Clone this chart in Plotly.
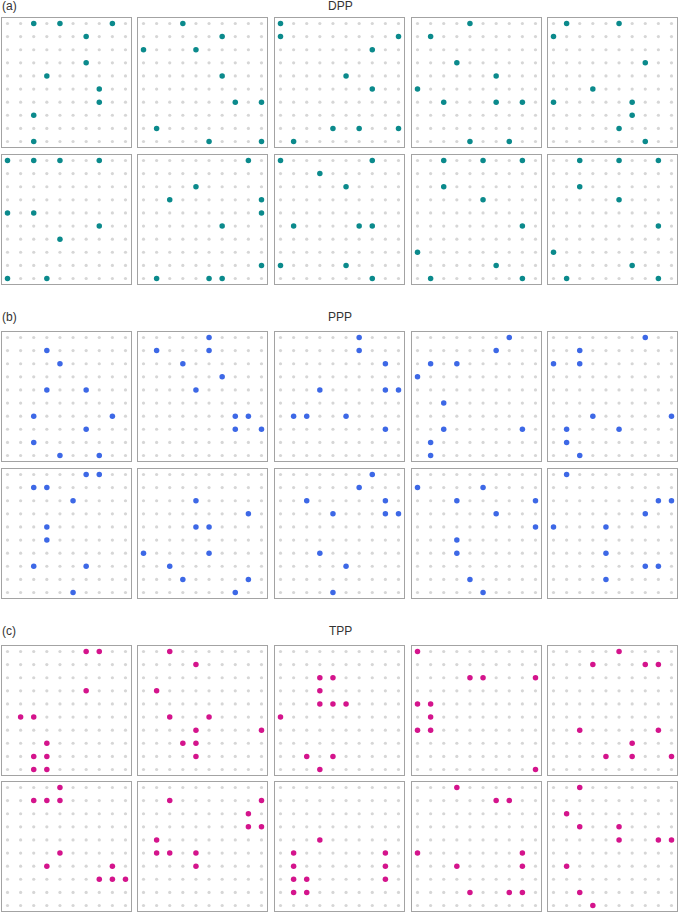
import numpy as np
import plotly.graph_objects as go

# highlighted cells (col, row) for each of the 10 samples per process, row 0 = top
dpp_points = [
    [(2,0),(4,0),(8,0),(6,1),(6,3),(3,4),(7,5),(7,6),(2,7),(2,9)],
    [(3,0),(6,1),(0,2),(4,2),(6,4),(7,6),(9,6),(1,8),(5,9),(9,9)],
    [(0,0),(0,1),(9,1),(7,2),(5,4),(7,5),(4,8),(6,8),(9,8),(1,9)],
    [(4,0),(1,1),(3,3),(6,4),(0,5),(2,6),(6,6),(8,6),(4,9),(7,9)],
    [(1,0),(5,0),(0,1),(7,3),(3,5),(0,6),(6,6),(6,7),(5,8),(7,9)],
    [(0,0),(2,0),(4,0),(7,0),(0,4),(2,4),(7,5),(4,6),(0,9),(3,9)],
    [(8,0),(4,2),(2,3),(9,3),(9,4),(6,5),(9,8),(1,9),(5,9),(6,9)],
    [(0,0),(7,0),(3,1),(5,2),(1,5),(6,5),(7,5),(0,8),(5,8),(7,9)],
    [(2,0),(5,0),(8,0),(2,2),(5,3),(8,5),(0,7),(6,8),(1,9),(8,9)],
    [(2,0),(5,0),(8,0),(2,2),(5,3),(8,5),(0,7),(6,8),(1,9),(8,9)],
]
ppp_points = [
    [(3,1),(4,2),(3,4),(6,4),(2,6),(8,6),(6,7),(2,8),(4,9),(7,9)],
    [(5,0),(1,1),(5,1),(3,2),(6,3),(4,4),(7,6),(8,6),(7,7),(9,7)],
    [(6,0),(6,1),(8,2),(3,4),(8,4),(9,4),(1,6),(2,6),(5,6),(8,7)],
    [(7,0),(6,1),(1,2),(3,2),(0,3),(2,5),(2,7),(8,7),(1,8),(1,9)],
    [(7,0),(2,1),(0,2),(2,2),(3,6),(9,6),(1,7),(5,7),(1,8),(2,9)],
    [(6,0),(7,0),(2,1),(3,1),(5,2),(3,4),(3,5),(2,7),(6,7),(5,9)],
    [(4,2),(8,3),(4,4),(5,4),(0,6),(5,6),(2,7),(3,8),(8,8),(7,9)],
    [(7,0),(6,1),(2,2),(8,2),(4,3),(8,3),(9,3),(3,6),(5,7),(4,9)],
    [(0,1),(5,1),(3,2),(9,2),(6,3),(9,4),(3,5),(3,6),(4,8),(5,9)],
    [(1,0),(8,2),(9,2),(7,3),(0,4),(4,4),(4,6),(7,7),(8,7),(4,8)],
]
tpp_points = [
    [(6,0),(7,0),(6,3),(1,5),(2,5),(3,7),(2,8),(3,8),(2,9),(3,9)],
    [(2,0),(4,1),(1,3),(2,5),(5,5),(4,6),(9,6),(3,7),(4,7),(4,8)],
    [(3,2),(4,2),(3,3),(3,4),(4,4),(5,4),(0,5),(2,8),(4,8),(3,9)],
    [(0,0),(4,2),(5,2),(9,2),(0,4),(1,4),(1,5),(0,6),(1,6),(9,9)],
    [(5,0),(3,1),(7,1),(8,1),(2,6),(8,6),(6,7),(4,8),(6,8),(9,8)],
    [(4,0),(2,1),(3,1),(4,1),(4,5),(3,6),(8,6),(7,7),(8,7),(9,7)],
    [(2,1),(9,1),(8,2),(8,3),(9,3),(1,4),(1,5),(2,5),(4,5),(4,6)],
    [(3,4),(1,5),(8,5),(1,6),(8,6),(1,7),(2,7),(8,7),(1,8),(2,8)],
    [(3,0),(6,1),(7,1),(0,5),(8,5),(3,6),(8,6),(4,8),(7,8),(8,8)],
    [(2,0),(1,2),(2,3),(5,3),(5,4),(8,4),(9,4),(1,6),(2,8),(3,9)],
]

groups = ["DPP", "PPP", "TPP"]
labels = ["(a)", "(b)", "(c)"]
colors = ["#0b8a8c", "#3d68e6", "#d4148c"]
all_points = [dpp_points, ppp_points, tpp_points]

W, H = 679, 912
panel_left = [2, 138, 275, 412, 548]
panel_size = 129
row_tops = [[18, 155], [332, 469], [646, 782]]
title_y = [6, 317, 631]

gx, gy = np.meshgrid(np.arange(10), np.arange(10))
gx, gy = gx.ravel(), gy.ravel()

fig = go.Figure()
layout = {}
n = 0
for g in range(3):
    for p in range(10):
        n += 1
        sfx = "" if n == 1 else str(n)
        left = panel_left[p % 5]
        top = row_tops[g][p // 5]
        ax = dict(showgrid=False, zeroline=False, showticklabels=False, ticks="",
                  showline=True, mirror=True, linecolor="#a3a3a3", linewidth=1.4,
                  fixedrange=True)
        layout["xaxis" + sfx] = dict(ax, domain=[left / W, (left + panel_size) / W],
                                     range=[-0.42, 9.42], anchor="y" + sfx)
        layout["yaxis" + sfx] = dict(ax, domain=[1 - (top + panel_size) / H, 1 - top / H],
                                     range=[9.42, -0.42], anchor="x" + sfx)
        fig.add_trace(go.Scatter(x=gx, y=gy, mode="markers", xaxis="x" + sfx, yaxis="y" + sfx,
                                 marker=dict(size=3.2, color="#d6d6d6"), hoverinfo="skip"))
        pts = all_points[g][p]
        fig.add_trace(go.Scatter(x=[c for c, r in pts], y=[r for c, r in pts], mode="markers",
                                 xaxis="x" + sfx, yaxis="y" + sfx,
                                 marker=dict(size=5.5, color=colors[g])))

annots = []
for g in range(3):
    yy = 1 - title_y[g] / H
    annots.append(dict(x=0, y=yy, xref="paper", yref="paper", text=labels[g], showarrow=False,
                       xanchor="left", yanchor="middle", font=dict(size=12, color="#333333")))
    annots.append(dict(x=340 / W, y=yy, xref="paper", yref="paper", text=groups[g], showarrow=False,
                       xanchor="center", yanchor="middle", font=dict(size=12, color="#333333")))

fig.update_layout(**layout)
fig.update_layout(width=W, height=H, margin=dict(l=0, r=0, t=0, b=0),
                  paper_bgcolor="white", plot_bgcolor="white", showlegend=False,
                  font=dict(family="Liberation Sans, Arial, sans-serif"),
                  annotations=annots)
fig.write_html("out.html", config={"displayModeBar": False},
               post_script="document.body.style.margin='0';document.body.style.overflow='hidden';")
